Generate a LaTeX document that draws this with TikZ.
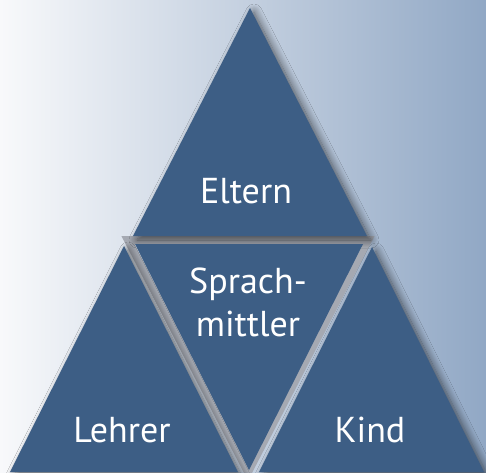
\documentclass[tikz,border=0pt]{standalone}
\usepackage{fontspec}
\setmainfont{PT Sans}
\usetikzlibrary{shadows.blur}
\definecolor{triblue}{RGB}{61,94,133}
\definecolor{gapgray}{RGB}{165,169,178}
\definecolor{bgleft}{RGB}{248,249,251}
\definecolor{bgright}{RGB}{145,168,197}
\tikzset{
  tri/.style={fill=triblue, blur shadow={shadow xshift=4pt, shadow yshift=-4pt, shadow blur radius=8pt, shadow blur steps=12, shadow opacity=60}},
  lbl/.style={text=white, font=\fontsize{36}{43}\selectfont, align=center, inner sep=0pt},
}
\begin{document}
\begin{tikzpicture}[x=1pt,y=-1pt]
\shade[left color=bgleft, right color=bgright] (0,0) rectangle (486,472);
\useasboundingbox (0,0) rectangle (486,472);
\clip (0,0) rectangle (486,472);
% silver gaps round the middle
\draw[gapgray, line width=8pt] (128,240) -- (368,240) -- (248,472) -- cycle;
% the four triangles
\fill[tri] (250,8) -- (367,236) -- (133,236) -- cycle;
\fill[tri] (124,246) -- (238,472) -- (10,472) -- cycle;
\fill[tri] (372,247) -- (484,472) -- (259,472) -- cycle;
\fill[triblue] (135,244) -- (363,244) -- (249,470) -- cycle;
% labels
\node[lbl, anchor=base] (eltern) at (246,203) {Eltern};
\node[lbl] (mittler) at (248,302) {Sprach-\\mittler};
\node[lbl, anchor=base] (lehrer) at (122,442) {Lehrer};
\node[lbl, anchor=base] (kind) at (370,442) {Kind};
\end{tikzpicture}
\end{document}
